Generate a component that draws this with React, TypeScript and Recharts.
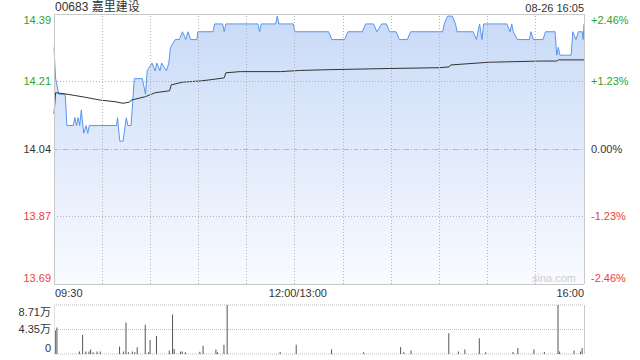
import {
  ComposedChart,
  BarChart,
  Area,
  Line,
  Bar,
  XAxis,
  YAxis,
  CartesianGrid,
  ReferenceLine,
} from "recharts";

const title = "00683 嘉里建设";
const stamp = "08-26 16:05";
const watermark = "sina.com";

// price axis: prev close 14.04, +/- 2.46%
const priceTicks = [13.6946, 13.8673, 14.04, 14.2127, 14.3854];
const priceLabels = ["13.69", "13.87", "14.04", "14.21", "14.39"];
const pctLabels = ["-2.46%", "-1.23%", "0.00%", "+1.23%", "+2.46%"];

// minutes since 09:30, lunch removed (330 = 16:00)
const timeTicks = [0, 30, 60, 90, 120, 150, 180, 210, 240, 270, 300, 330];
const timeLabels: Record<number, string> = { 0: "09:30", 150: "12:00/13:00", 330: "16:00" };

const priceMinutes = [
  0, 1, 3, 7, 8, 12, 13, 14, 15, 16, 17, 18.5, 20, 21, 22, 39, 39.5, 41, 43, 45, 46, 48, 50, 55, 57, 58, 61,
  63, 64, 66, 67, 70, 71.5, 72.5, 75.5, 78, 80, 82, 83.5, 85, 89, 89.5, 99, 100, 105, 106, 107, 127, 128,
  129, 138, 139, 140, 149, 150, 171, 173, 181, 183, 192, 194, 199, 201, 204, 207, 209, 213, 215, 220, 222,
  242, 243, 245, 248, 250, 251, 261, 263, 265, 266.5, 267.5, 282, 284, 285, 286, 288.5, 296, 297, 298.5,
  304.5, 306, 312, 313, 314, 315, 322, 323, 325, 326.5, 329, 329.5, 330,
];
const prices = [
  14.3, 14.22, 14.18, 14.18, 14.1, 14.1, 14.12, 14.1, 14.12, 14.1, 14.14, 14.08, 14.1, 14.08, 14.1, 14.1,
  14.12, 14.06, 14.06, 14.12, 14.1, 14.1, 14.22, 14.22, 14.18, 14.24, 14.26, 14.24, 14.26, 14.24, 14.26,
  14.24, 14.26, 14.3, 14.32, 14.32, 14.34, 14.32, 14.34, 14.32, 14.32, 14.34, 14.34, 14.36, 14.36, 14.34,
  14.36, 14.36, 14.34, 14.36, 14.36, 14.38, 14.36, 14.36, 14.34, 14.34, 14.32, 14.32, 14.34, 14.34, 14.36,
  14.36, 14.34, 14.36, 14.36, 14.34, 14.34, 14.32, 14.32, 14.34, 14.34, 14.36, 14.38, 14.38, 14.36, 14.34,
  14.34, 14.32, 14.36, 14.32, 14.36, 14.36, 14.34, 14.36, 14.34, 14.32, 14.32, 14.34, 14.32, 14.32, 14.34,
  14.34, 14.28, 14.3, 14.28, 14.28, 14.34, 14.32, 14.34, 14.34, 14.32, 14.36,
];

const avgMinutes = [
  0, 1, 7, 20, 29, 38, 43, 47, 48, 57, 63, 72, 73, 80, 91, 99, 106, 107, 116, 141, 153, 172, 209, 240, 246,
  247, 271, 303, 313, 314, 330,
];
const avgPrices = [
  14.13, 14.184, 14.181, 14.172, 14.165, 14.161, 14.157, 14.16, 14.165, 14.174, 14.184, 14.189, 14.204,
  14.211, 14.214, 14.218, 14.222, 14.235, 14.238, 14.238, 14.241, 14.243, 14.246, 14.248, 14.25, 14.255,
  14.262, 14.265, 14.265, 14.268, 14.268,
];

const volTicks = [0, 43550, 87100];
const volLabels = ["0", "4.35万", "8.71万"];
const volMinutes = [
  1, 2, 16, 18, 20, 22, 23, 24.5, 27, 29, 41, 43.5, 45, 46.5, 49, 50.5, 52, 57, 59, 60, 64, 72, 74, 75, 79,
  80, 82, 91, 93, 101, 102, 106, 108, 141, 151, 173, 193, 216, 218, 222.5, 246, 252, 256, 265, 269, 286, 289,
  299, 305.5, 314, 315, 324, 328, 329,
];
const volumes = [
  42000, 47000, 4500, 34000, 4500, 4500, 8000, 3000, 4500, 4500, 13500, 4500, 56000, 3000, 4500, 3000,
  12000, 52000, 3000, 25000, 32000, 6000, 70000, 9000, 4500, 4500, 3000, 4000, 14500, 8000, 3000, 16500,
  87100, 3500, 16500, 8000, 3000, 12500, 3000, 6000, 37000, 4500, 8000, 28000, 3000, 3500, 10500, 8000,
  3500, 87000, 4500, 6000, 4500, 10500,
];

const priceData = priceMinutes.map((t, i) => ({ t, p: prices[i] }));
const avgData = avgMinutes.map((t, i) => ({ t, a: avgPrices[i] }));
const volData = volMinutes.map((t, i) => ({ t, v: volumes[i] }));

const font = "'Liberation Sans', Arial, 'Noto Sans CJK SC', sans-serif";
const green = "#2aa52a";
const red = "#f03c3c";
const gridColor = "#b4b4b4";
const borderColor = "#c8c8c8";

function PriceTick(props: any) {
  const { y, index } = props;
  const last = priceTicks.length - 1;
  const dy = index === 0 ? -6 : index === last ? 6 : 0;
  const color = index > 2 ? green : index < 2 ? red : "#333";
  return (
    <g>
      <text x={51} y={y + dy} dy="0.35em" textAnchor="end" fill={color} fontSize={11}>
        {priceLabels[index]}
      </text>
      <text x={591} y={y + dy} dy="0.35em" textAnchor="start" fill={color} fontSize={11}>
        {pctLabels[index]}
      </text>
    </g>
  );
}

function TimeTick(props: any) {
  const { x, payload } = props;
  const label = timeLabels[payload.value];
  if (!label) return <g />;
  const anchor = payload.value === 0 ? "start" : payload.value === 330 ? "end" : "middle";
  const shift = payload.value === 0 ? 1 : payload.value === 330 ? 0 : 3;
  return (
    <text x={x + shift} y={293} dy="0.35em" textAnchor={anchor} fill="#333" fontSize={11}>
      {label}
    </text>
  );
}

function VolTick(props: any) {
  const { y, index } = props;
  const dy = index === 0 ? -6 : index === 2 ? 7 : 0;
  return (
    <text x={51} y={y + dy} dy="0.35em" textAnchor="end" fill="#333" fontSize={11}>
      {volLabels[index]}
    </text>
  );
}

export default function App() {
  const innerTimes = timeTicks.slice(1, -1);
  const innerPrices = [priceTicks[1], priceTicks[2], priceTicks[3]];
  const box = { position: "absolute" as const, left: 0, top: 0 };
  return (
    <div
      style={{
        position: "absolute",
        left: 0,
        top: 0,
        width: 640,
        height: 360,
        background: "#fff",
        fontFamily: font,
        color: "#333",
      }}
    >
      <div style={{ position: "absolute", left: 55, top: 0, fontSize: 12, lineHeight: "15px" }}>{title}</div>
      <div style={{ position: "absolute", right: 56, top: 1, fontSize: 11, lineHeight: "15px" }}>{stamp}</div>

      {/* price + average */}
      <div style={box}>
        <ComposedChart width={640} height={300} data={priceData} margin={{ top: 14, right: 56, left: 0, bottom: 0 }}>
          <defs>
            <linearGradient id="fillPrice" x1="0" y1="0" x2="0" y2="1">
              <stop offset="0%" stopColor="#b4ccf4" />
              <stop offset="100%" stopColor="#f6f9ff" />
            </linearGradient>
          </defs>
          <XAxis
            type="number"
            dataKey="t"
            domain={[0, 330]}
            ticks={timeTicks}
            interval={0}
            height={16}
            axisLine={false}
            tickLine={false}
            tick={TimeTick}
          />
          <YAxis
            type="number"
            domain={[priceTicks[0], priceTicks[4]]}
            ticks={priceTicks}
            interval={0}
            allowDataOverflow
            width={54}
            axisLine={false}
            tickLine={false}
            tick={PriceTick}
          />
          <Area
            type="linear"
            dataKey="p"
            stroke="#5a95ef"
            strokeWidth={1}
            fill="url(#fillPrice)"
            fillOpacity={0.72}
            dot={false}
            activeDot={false}
            isAnimationActive={false}
          />
          <Line
            data={avgData}
            type="linear"
            dataKey="a"
            stroke="#333"
            strokeWidth={1}
            dot={false}
            activeDot={false}
            isAnimationActive={false}
          />
        </ComposedChart>
      </div>

      {/* grid and frame for the price panel */}
      <div style={{ ...box, pointerEvents: "none" }}>
        <ComposedChart width={640} height={300} data={priceData} margin={{ top: 14, right: 56, left: 54, bottom: 16 }}>
          <XAxis type="number" dataKey="t" domain={[0, 330]} hide />
          <YAxis type="number" domain={[priceTicks[0], priceTicks[4]]} allowDataOverflow hide />
          {innerTimes.map((t) => (
            <ReferenceLine
              key={"x" + t}
              x={t}
              stroke={gridColor}
              strokeDasharray="1 2"
              shapeRendering="crispEdges"
            />
          ))}
          {innerPrices.map((p) => (
            <ReferenceLine
              key={"y" + p}
              y={p}
              stroke={gridColor}
              strokeDasharray="1 2"
              shapeRendering="crispEdges"
            />
          ))}
          <ReferenceLine y={14.04} stroke="#eba890" strokeDasharray="4 6" shapeRendering="crispEdges" />
          <ReferenceLine x={0} stroke={borderColor} shapeRendering="crispEdges" />
          <ReferenceLine x={330} stroke={borderColor} shapeRendering="crispEdges" />
          <ReferenceLine y={priceTicks[0]} stroke={borderColor} shapeRendering="crispEdges" />
          <ReferenceLine y={priceTicks[4]} stroke={borderColor} shapeRendering="crispEdges" />
        </ComposedChart>
      </div>

      <div style={{ position: "absolute", left: 532, top: 272, fontSize: 11, color: "#cfcfcf" }}>{watermark}</div>

      <div style={{ position: "absolute", left: 0, top: 300 }}>
        <BarChart width={640} height={60} data={volData} margin={{ top: 5, right: 56, left: 0, bottom: 6 }}>
          <CartesianGrid stroke="#bdbdbd" strokeDasharray="1 1" vertical={false} />
          <XAxis type="number" dataKey="t" domain={[0, 330]} hide />
          <YAxis
            type="number"
            domain={[0, 87100]}
            ticks={volTicks}
            interval={0}
            allowDataOverflow
            width={54}
            axisLine={false}
            tickLine={false}
            tick={VolTick}
          />
          <ReferenceLine x={0} stroke="#e3e3e3" shapeRendering="crispEdges" />
          <ReferenceLine x={330} stroke={borderColor} shapeRendering="crispEdges" />
          <Bar dataKey="v" barSize={1} fill="#555" isAnimationActive={false} />
        </BarChart>
      </div>
    </div>
  );
}
